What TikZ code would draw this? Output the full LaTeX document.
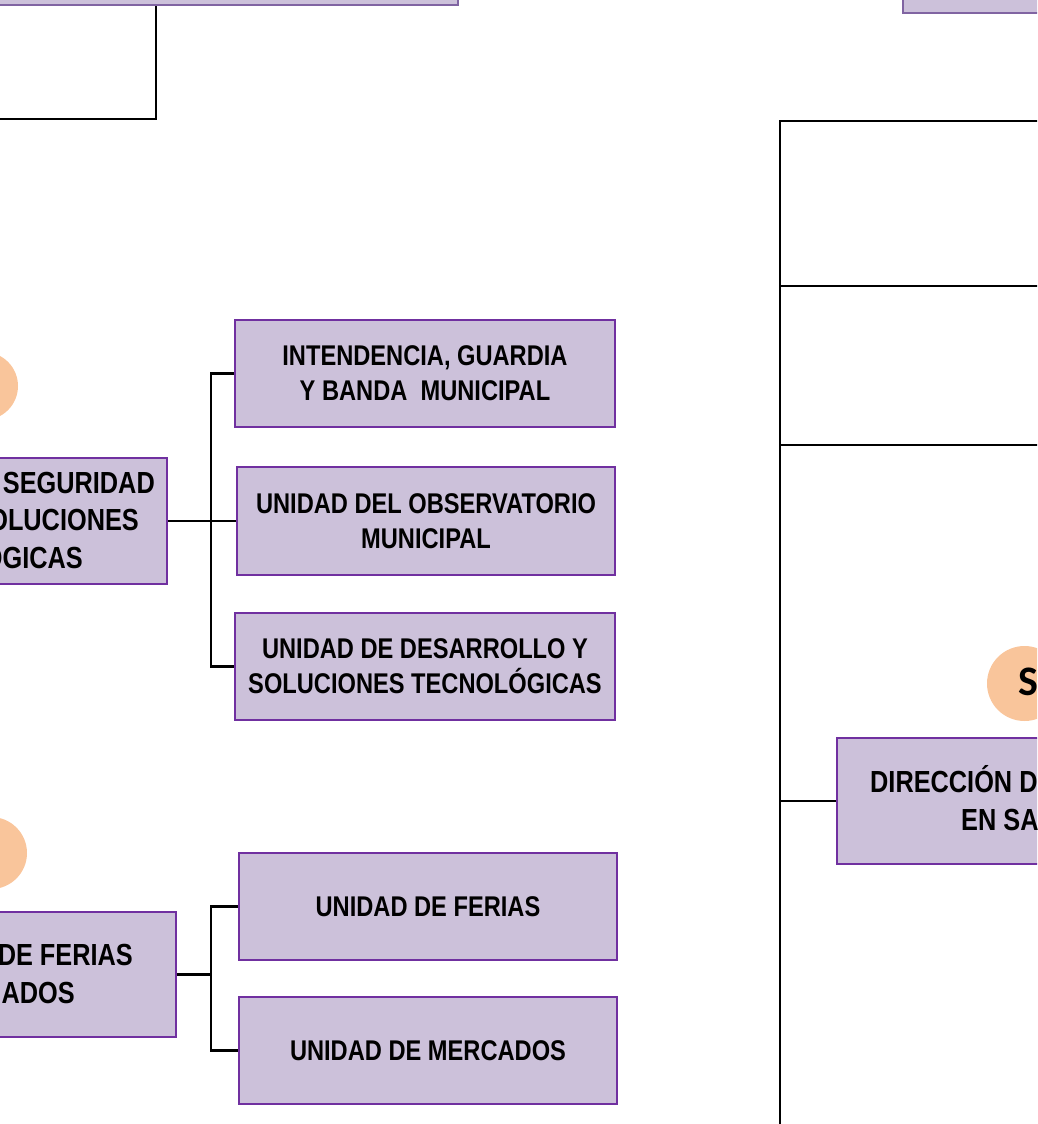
\documentclass[tikz,border=0pt]{standalone}
\usepackage{fontspec}
\setmainfont{Liberation Sans}[FakeStretch=0.83]
\newfontfamily\circfont{Carlito}
\usepackage{tikz}
\definecolor{boxfill}{HTML}{CCC1DA}
\definecolor{boxline}{HTML}{7030A0}
\definecolor{topline}{HTML}{8064A2}
\definecolor{peach}{HTML}{F9C59B}
\newcommand{\boxFont}{\bfseries\fontsize{28.5}{35}\selectfont}
\newcommand{\dirFont}{\bfseries\fontsize{30.5}{38}\selectfont}

\begin{document}
\begin{tikzpicture}[x=1pt,y=-1pt,
  unitbox/.style={draw=boxline,fill=boxfill,line width=2pt,inner sep=0pt,
    align=center,font=\boxFont,minimum height=107pt},
  topbox/.style={draw=topline,fill=boxfill,line width=2.5pt,inner sep=0pt},
  frag/.style={inner sep=0pt,font=\dirFont},
  peachdot/.style={circle,fill=peach,inner sep=0pt},
  conn/.style={draw=black,line width=2.4pt}]
\useasboundingbox (0,0) rectangle (1037,1124);
\clip (0,0) rectangle (1037,1124);
% top boxes
\node[topbox,minimum width=478pt,minimum height=65pt] (jefatura) at (219,-27.5) {};
\node[topbox,minimum width=157pt,minimum height=63pt] (despacho) at (981.5,-18.5) {};
\coordinate (drop1) at (156,119);
\coordinate (tlend) at (-10,119);
\draw[conn] (jefatura.south -| drop1) |- (tlend);
% right spine
\coordinate (spinetop) at (780,121);
\coordinate (spinebot) at (780,1135);
\coordinate (r1) at (1045,121);
\coordinate (r2) at (1045,286);
\coordinate (r3) at (1045,445);
\draw[conn] (r1) -- (spinetop) -- (spinebot);
\draw[conn] (spinetop |- r2) -- (r2);
\draw[conn] (spinetop |- r3) -- (r3);
% direccion en salud (cut at the edge)
\node[unitbox,minimum width=223pt,minimum height=126pt] (salud) at (948.5,801) {};
\node[frag,anchor=base west] (salud1) at (870,792) {DIRECCIÓN D};
\node[frag,anchor=base west] (salud2) at (961,830) {EN SA};
\draw[conn] (spinetop |- salud.west) -- (salud.west);
\node[peachdot,minimum size=75pt] (sdot) at (1024.5,683.5) {};
\node[inner sep=0pt,anchor=base west,font=\circfont\bfseries\fontsize{42}{42}\selectfont] (sdotlbl) at (1018,695) {S};
% seguridad
\node[peachdot,minimum size=68pt] (segdot) at (-16,386) {};
\node[unitbox,minimum width=187pt,minimum height=126pt] (segdir) at (73.5,521) {};
\node[frag,anchor=base east] (seg1) at (155,493) {SEGURIDAD};
\node[frag,anchor=base east] (seg2) at (139,530) {OLUCIONES};
\node[frag,anchor=base east] (seg3) at (83,568) {OGICAS};
\node[unitbox,minimum width=380pt] (intend) at (425,373.5) {INTENDENCIA, GUARDIA\\Y BANDA\ \ MUNICIPAL};
\node[unitbox,minimum width=378pt,minimum height=108pt] (observ) at (426,521) {UNIDAD DEL OBSERVATORIO\\MUNICIPAL};
\node[unitbox,minimum width=380pt] (desarr) at (425,666.5) {UNIDAD DE DESARROLLO Y\\SOLUCIONES TECNOLÓGICAS};
\coordinate (bus1) at (211,0);
\draw[conn] (segdir.east) -- (observ.west);
\draw[conn] (intend.west) -| (desarr.west -| bus1) -- (desarr.west);
% ferias y mercados
\node[peachdot,minimum size=72pt] (ferdot) at (-9,853) {};
\node[unitbox,minimum width=196pt,minimum height=125pt] (ferdir) at (78,974.5) {};
\node[frag,anchor=base east] (fer1) at (133,965) {DE FERIAS};
\node[frag,anchor=base east] (fer2) at (75,1003) {ADOS};
\node[unitbox,minimum width=378pt] (ferias) at (428,906.5) {UNIDAD DE FERIAS};
\node[unitbox,minimum width=378pt] (mercad) at (428,1050.5) {UNIDAD DE MERCADOS};
\coordinate (bus2) at (211,0);
\draw[conn] (ferdir.east) -- (ferdir.east -| bus2);
\draw[conn] (ferias.west) -| (mercad.west -| bus2) -- (mercad.west);
\end{tikzpicture}
\end{document}
